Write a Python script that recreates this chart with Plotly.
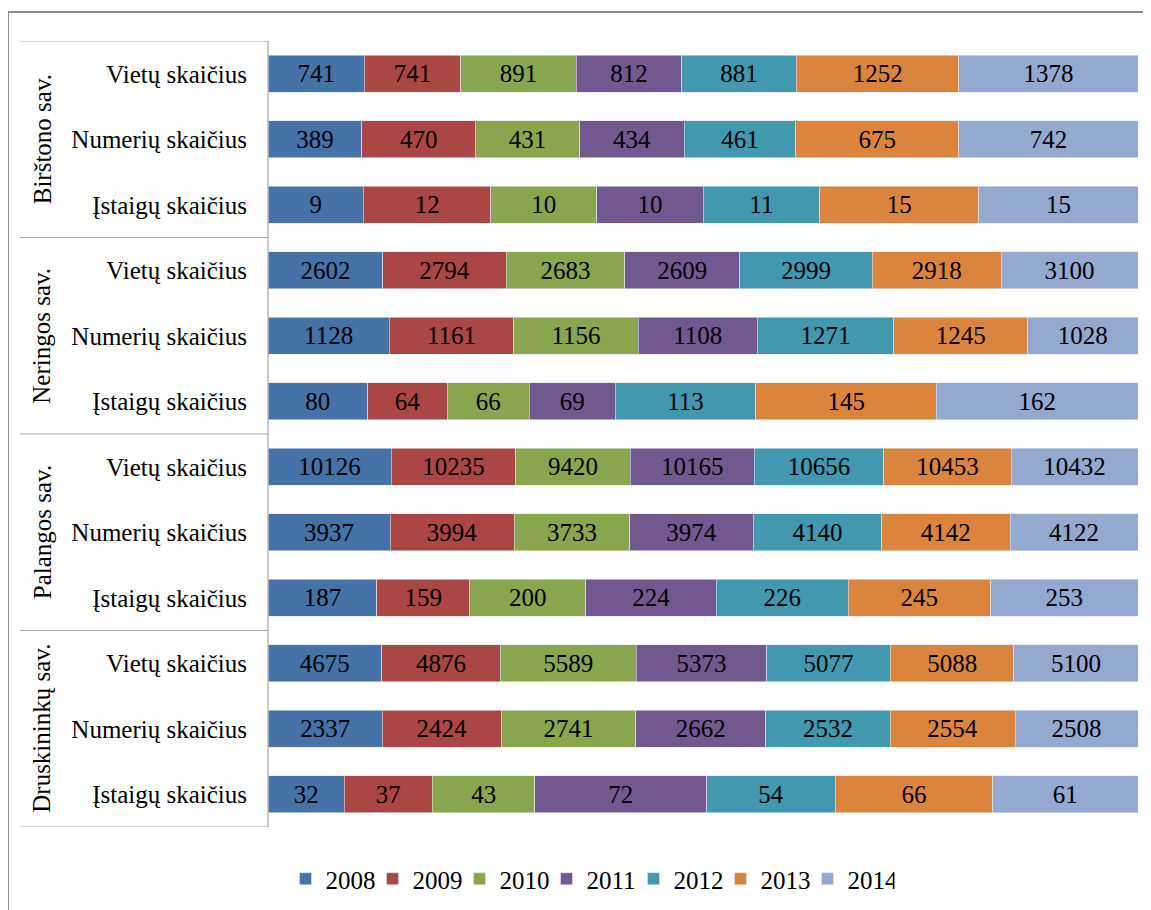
import plotly.graph_objects as go

years = ["2008", "2009", "2010", "2011", "2012", "2013", "2014"]
colors = ["#4572A7", "#AA4643", "#89A54E", "#71588F", "#4198AF", "#DB843D", "#93A9CF"]

groups = ["Birštono sav.", "Neringos sav.", "Palangos sav.", "Druskininkų sav."]
measures = ["Vietų skaičius", "Numerių skaičius", "Įstaigų skaičius"]

birstono_vietu = [741, 741, 891, 812, 881, 1252, 1378]
birstono_numeriu = [389, 470, 431, 434, 461, 675, 742]
birstono_istaigu = [9, 12, 10, 10, 11, 15, 15]
neringos_vietu = [2602, 2794, 2683, 2609, 2999, 2918, 3100]
neringos_numeriu = [1128, 1161, 1156, 1108, 1271, 1245, 1028]
neringos_istaigu = [80, 64, 66, 69, 113, 145, 162]
palangos_vietu = [10126, 10235, 9420, 10165, 10656, 10453, 10432]
palangos_numeriu = [3937, 3994, 3733, 3974, 4140, 4142, 4122]
palangos_istaigu = [187, 159, 200, 224, 226, 245, 253]
druskininku_vietu = [4675, 4876, 5589, 5373, 5077, 5088, 5100]
druskininku_numeriu = [2337, 2424, 2741, 2662, 2532, 2554, 2508]
druskininku_istaigu = [32, 37, 43, 72, 54, 66, 61]

rows = [
    birstono_vietu, birstono_numeriu, birstono_istaigu,
    neringos_vietu, neringos_numeriu, neringos_istaigu,
    palangos_vietu, palangos_numeriu, palangos_istaigu,
    druskininku_vietu, druskininku_numeriu, druskininku_istaigu,
]
row_labels = measures * len(groups)
row_pos = list(range(len(rows)))

FONT = "Liberation Serif, Tinos, serif"
FS = 25

# page has an 8px body margin; work in reference-page pixels and convert
OFF = 8
W, H = 1151 - OFF, 910 - OFF
PL, PR, PT, PB = 268, 1138, 41, 827   # plot area in page pixels
L = PL - OFF
R = (OFF + W) - PR
T = PT - OFF
B = (OFF + H) - PB
pw = W - L - R
ph = H - T - B

def px_x(p):
    return (p - PL) / pw

def px_y(p):
    return (PB - p) / ph

fig = go.Figure()
for i, yr in enumerate(years):
    vals = [r[i] for r in rows]
    fig.add_trace(go.Bar(
        name=yr, orientation="h", y=row_pos, x=vals,
        marker=dict(color=colors[i], line=dict(color="#dfe6f0", width=0.6)),
        text=[str(v) for v in vals], textposition="inside",
        insidetextanchor="middle", constraintext="none",
        textfont=dict(family=FONT, size=FS, color="black"),
        hoverinfo="skip",
    ))

shapes = []
line_col = "#a6a6a6"
for k in range(len(groups) + 1):
    yb = k * 3 - 0.5
    shapes.append(dict(type="line", xref="paper", yref="y", x0=px_x(20), x1=0,
                       y0=yb, y1=yb, line=dict(color=line_col, width=1.2)))
shapes.append(dict(type="line", xref="paper", yref="y", x0=0, x1=0,
                   y0=-0.5, y1=len(rows) - 0.5, line=dict(color=line_col, width=1.2)))
# outer chart frame
shapes.append(dict(type="rect", xref="paper", yref="paper", x0=px_x(8), x1=px_x(1170),
                   y0=px_y(930), y1=px_y(12), line=dict(color="#8c8c8c", width=2),
                   fillcolor="rgba(0,0,0,0)", layer="below"))

annotations = []
for k, g in enumerate(groups):
    annotations.append(dict(
        text=g, xref="paper", yref="y", x=px_x(42), y=k * 3 + 1,
        textangle=-90, showarrow=False, xanchor="center", yanchor="middle",
        font=dict(family=FONT, size=FS, color="black"),
    ))

fig.update_layout(
    barmode="stack", barnorm="percent", bargap=0.43,
    width=W, height=H,
    margin=dict(l=L, r=R, t=T, b=B, autoexpand=False),
    paper_bgcolor="white", plot_bgcolor="white",
    font=dict(family=FONT, size=FS, color="black"),
    xaxis=dict(range=[0, 100], visible=False, fixedrange=True),
    yaxis=dict(
        tickmode="array", tickvals=row_pos, ticktext=row_labels,
        range=[len(rows) - 0.5, -0.5], showgrid=False, zeroline=False,
        showline=False, ticks="", ticklabelstandoff=20,
        tickfont=dict(family=FONT, size=FS, color="black"),
    ),
    legend=dict(
        orientation="h", x=px_x(590), xanchor="center", y=px_y(879), yanchor="middle",
        font=dict(family=FONT, size=FS, color="black"), traceorder="normal",
        itemwidth=30, entrywidth=42, entrywidthmode="pixels",
    ),
    shapes=shapes, annotations=annotations,
    showlegend=True,
)

fig.write_html("out.html")
